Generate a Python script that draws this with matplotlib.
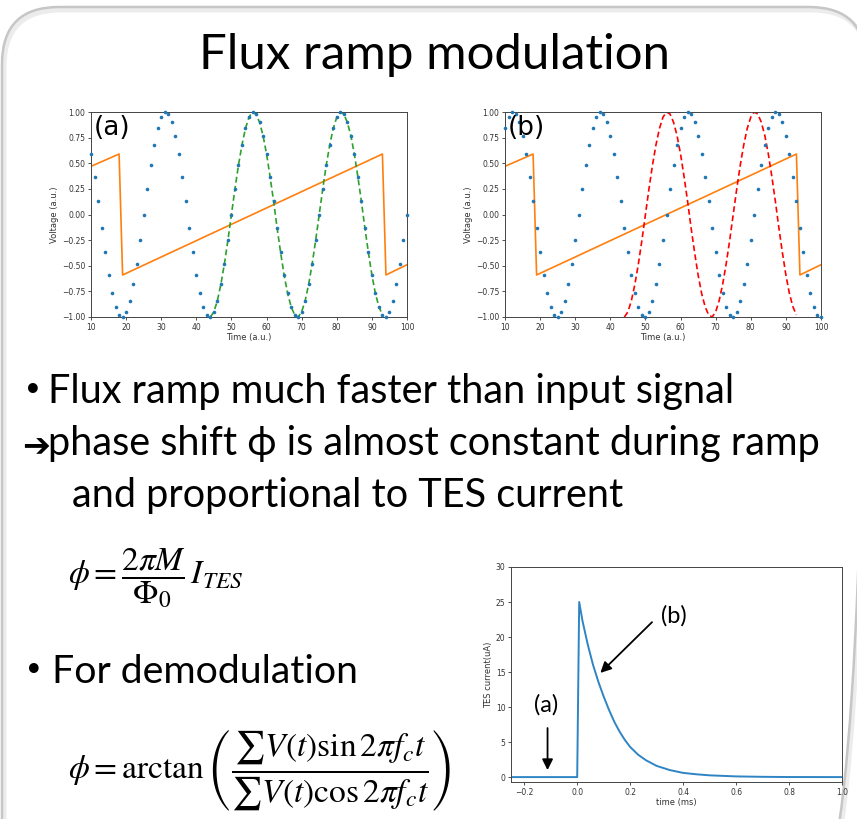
import matplotlib
matplotlib.use('Agg')
import matplotlib.pyplot as plt
from matplotlib.patches import FancyBboxPatch
import numpy as np

plt.rcParams['mathtext.fontset'] = 'stix'

# --- panels (a) and (b): sampled input signal at integer time steps 10..100
time_au = list(range(10, 101))
signal_a = [0.59, 0.37, 0.13, -0.13, -0.37, -0.59, -0.77, -0.90, -0.98, -1.00,
            -0.95, -0.84, -0.68, -0.48, -0.25, 0.00, 0.25, 0.48, 0.68, 0.84,
            0.95, 1.00, 0.98, 0.90, 0.77, 0.59, 0.37, 0.13, -0.13, -0.37,
            -0.59, -0.77, -0.90, -0.98, -1.00, -0.95, -0.84, -0.68, -0.48, -0.25,
            0.00, 0.25, 0.48, 0.68, 0.84, 0.95, 1.00, 0.98, 0.90, 0.77,
            0.59, 0.37, 0.13, -0.13, -0.37, -0.59, -0.77, -0.90, -0.98, -1.00,
            -0.95, -0.84, -0.68, -0.48, -0.25, 0.00, 0.25, 0.48, 0.68, 0.84,
            0.95, 1.00, 0.98, 0.90, 0.77, 0.59, 0.37, 0.13, -0.13, -0.37,
            -0.59, -0.77, -0.90, -0.98, -1.00, -0.95, -0.84, -0.68, -0.48, -0.25,
            0.00]
signal_b = [0.84, 0.95, 1.00, 0.98, 0.90, 0.77, 0.59, 0.37, 0.13, -0.13,
            -0.37, -0.59, -0.77, -0.90, -0.98, -1.00, -0.95, -0.84, -0.68, -0.48,
            -0.25, 0.00, 0.25, 0.48, 0.68, 0.84, 0.95, 1.00, 0.98, 0.90,
            0.77, 0.59, 0.37, 0.13, -0.13, -0.37, -0.59, -0.77, -0.90, -0.98,
            -1.00, -0.95, -0.84, -0.68, -0.48, -0.25, 0.00, 0.25, 0.48, 0.68,
            0.84, 0.95, 1.00, 0.98, 0.90, 0.77, 0.59, 0.37, 0.13, -0.13,
            -0.37, -0.59, -0.77, -0.90, -0.98, -1.00, -0.95, -0.84, -0.68, -0.48,
            -0.25, 0.00, 0.25, 0.48, 0.68, 0.84, 0.95, 1.00, 0.98, 0.90,
            0.77, 0.59, 0.37, 0.13, -0.13, -0.37, -0.59, -0.77, -0.90, -0.98,
            -1.00]

# flux ramp (sawtooth) corner points
ramp_t = [10, 18, 19, 93, 94, 100]
ramp_v = [0.47, 0.59, -0.59, 0.59, -0.59, -0.49]

# dashed reference sinusoid
ref_t = list(range(44, 94))
ref_v = [-1.00, -0.95, -0.84, -0.68, -0.48, -0.25, 0.00, 0.25, 0.48, 0.68,
         0.84, 0.95, 1.00, 0.98, 0.90, 0.77, 0.59, 0.37, 0.13, -0.13,
         -0.37, -0.59, -0.77, -0.90, -0.98, -1.00, -0.95, -0.84, -0.68, -0.48,
         -0.25, 0.00, 0.25, 0.48, 0.68, 0.84, 0.95, 1.00, 0.98, 0.90,
         0.77, 0.59, 0.37, 0.13, -0.13, -0.37, -0.59, -0.77, -0.90, -0.98]

# --- TES pulse
tes_t = [-0.25, 0.0, 0.0075, 0.02, 0.04, 0.06, 0.08, 0.10, 0.12, 0.14, 0.16,
         0.18, 0.20, 0.23, 0.26, 0.30, 0.35, 0.40, 0.45, 0.50, 0.60, 0.70, 0.80, 1.00]
tes_i = [0.0, 0.0, 25.0, 22.3, 18.9, 16.0, 13.6, 11.5, 9.6, 7.9, 6.5,
         5.3, 4.3, 3.2, 2.4, 1.6, 1.0, 0.6, 0.4, 0.25, 0.1, 0.04, 0.01, 0.0]

W, H = 857, 819
fig = plt.figure(figsize=(W / 100, H / 100), dpi=100)
fig.patch.set_facecolor('white')

# slide background in pixel coordinates
bg = fig.add_axes([0, 0, 1, 1])
bg.set_xlim(0, W)
bg.set_ylim(H, 0)
bg.axis('off')
bg.add_patch(FancyBboxPatch((4, 10), 864, 900, boxstyle='round,pad=0,rounding_size=57',
                            fill=False, ec='#ececec', lw=3.5))
bg.add_patch(FancyBboxPatch((2, 7), 864, 900, boxstyle='round,pad=0,rounding_size=57',
                            fill=False, ec='#c6c6c6', lw=1.8))

slide_font = ['Lato', 'DejaVu Sans']
renderer = fig.canvas.get_renderer()


def fit(t, width):
    w = t.get_window_extent(renderer).width
    t.set_fontsize(t.get_fontsize() * width / w)
    return t.get_fontsize()


title = bg.text(435, 69, 'Flux ramp modulation', ha='center', va='baseline',
                family=slide_font, fontsize=30)
fit(title, 470)

l1 = bg.text(48, 403, 'Flux ramp much faster than input signal', va='baseline',
             family=slide_font, fontsize=24)
fs = fit(l1, 687)
bg.text(23, 401, '\u2022', va='baseline', family='DejaVu Sans', fontsize=fs * 0.85)
bg.text(22, 456, '\u2794', va='baseline', family='DejaVu Sans', fontsize=24)
bg.text(48, 455, 'phase shift \u03d5 is almost constant during ramp', va='baseline',
        family=slide_font, fontsize=fs)
bg.text(72, 507, 'and proportional to TES current', va='baseline',
        family=slide_font, fontsize=fs)
l4 = bg.text(52, 683, 'For demodulation', va='baseline', family=slide_font, fontsize=24)
fs4 = fit(l4, 306)
bg.text(24, 681, '\u2022', va='baseline', family='DejaVu Sans', fontsize=fs4 * 0.85)

bg.text(68, 578, r'$\phi = \dfrac{2\pi M}{\Phi_0}\,I_{TES}$', va='center', fontsize=24)
bg.text(68, 770, r'$\phi = \arctan\left(\dfrac{\sum V(t)\sin 2\pi f_c t}{\sum V(t)\cos 2\pi f_c t}\right)$',
        va='center', fontsize=24)


def style(ax):
    ax.tick_params(labelsize=5.5, length=2.5, width=0.6, pad=1.5, colors='#333333')
    for s in ax.spines.values():
        s.set_linewidth(0.7)
        s.set_color('#444444')


def wave_panel(left, sig, ref_color, tag):
    ax = fig.add_axes([left / W, 1 - 317 / H, 316 / W, 205 / H])
    ax.plot(time_au, sig, 'o', ms=2.6, color='#1f77b4', mec='none', zorder=3, clip_on=False)
    ax.plot(ramp_t, ramp_v, color='#ff7f0e', lw=1.2)
    ax.plot(ref_t, ref_v, '--', color=ref_color, lw=1.2, dashes=(3.5, 2))
    ax.set_xlim(10, 100)
    ax.set_ylim(-1, 1)
    ax.set_xticks(range(10, 101, 10))
    ax.set_yticks(np.arange(-1, 1.01, 0.25))
    ax.set_xlabel('Time (a.u.)', fontsize=6, labelpad=1, color='#333333')
    ax.set_ylabel('Voltage (a.u.)', fontsize=6, labelpad=2, color='#333333')
    ax.text(0.01, 0.985, tag, transform=ax.transAxes, fontsize=19, va='top')
    style(ax)
    return ax


wave_panel(91, signal_a, '#2ca02c', '(a)')
wave_panel(505, signal_b, '#ff0000', '(b)')

ax3 = fig.add_axes([511 / W, 1 - 782 / H, 331 / W, 215 / H])
ax3.plot(tes_t, tes_i, color='#2f84c4', lw=1.4)
ax3.set_xlim(-0.25, 1.0)
ax3.set_ylim(-0.7, 30)
ax3.set_xticks([-0.2, 0.0, 0.2, 0.4, 0.6, 0.8, 1.0])
ax3.set_yticks(range(0, 31, 5))
ax3.set_xlabel('time (ms)', fontsize=6, labelpad=1, color='#333333')
ax3.set_ylabel('TES current(uA)', fontsize=6, labelpad=2, color='#333333')
style(ax3)
ax3.annotate('', xy=(-0.112, 0.6), xytext=(-0.112, 7.4),
             arrowprops=dict(arrowstyle='-|>', color='black', lw=1.3, mutation_scale=16))
ax3.text(-0.117, 10.3, '(a)', ha='center', va='center', family=slide_font, fontsize=17)
ax3.annotate('', xy=(0.08, 14.6), xytext=(0.29, 22.4),
             arrowprops=dict(arrowstyle='-|>', color='black', lw=1.3, mutation_scale=16))
ax3.text(0.366, 23.1, '(b)', ha='center', va='center', family=slide_font, fontsize=17)

fig.savefig('out.png', dpi=100)
